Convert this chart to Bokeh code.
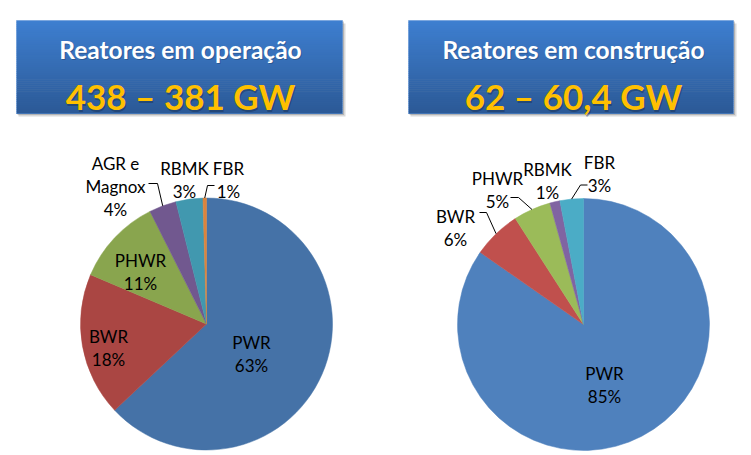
import numpy as np
from bokeh.plotting import figure
from bokeh.models import ColumnDataSource, Range1d
from bokeh.core.properties import value
from bokeh.embed import file_html
from bokeh.resources import INLINE

# ---------------- data ----------------
op_title = "Reatores em operação"
op_total = "438 – 381 GW"
op_types = ["PWR", "BWR", "PHWR", "AGR e\nMagnox", "RBMK", "FBR"]
op_share = [63.0, 18.4, 11.2, 3.5, 3.45, 0.45]
op_pct = ["63%", "18%", "11%", "4%", "3%", "1%"]

con_title = "Reatores em construção"
con_total = "62 – 60,4 GW"
con_types = ["PWR", "BWR", "PHWR", "RBMK", "FBR"]
con_share = [84.7, 6.2, 4.8, 1.3, 3.0]
con_pct = ["85%", "6%", "5%", "1%", "3%"]

# ---------------- style / layout ----------------
W, H = 751, 455
FONT = "Lato"
op_colors = ["#4572A7", "#AA4643", "#89A54E", "#71588F", "#4198AF", "#DB843D"]
con_colors = ["#4F81BD", "#C0504D", "#9BBB59", "#8064A2", "#4BACC6"]


def sy(y):
    return H - y


p = figure(width=W, height=H, x_range=Range1d(0, W), y_range=Range1d(0, H),
           output_backend="svg", toolbar_location=None, min_border=0)
p.axis.visible = False
p.grid.visible = False
p.outline_line_color = None
p.background_fill_color = "white"
p.border_fill_color = "white"


def header(x0, x1, y0, y1, title, total, tx, title_base, num_base):
    # shadow
    p.quad(left=[x0 + 2], right=[x1 + 3], top=[sy(y0 + 3)], bottom=[sy(y1 + 3)],
           fill_color="#808080", fill_alpha=0.3, line_color=None)
    p.quad(left=[x0 + 1], right=[x1 + 1.5], top=[sy(y0 + 1)], bottom=[sy(y1 + 1.5)],
           fill_color="#606060", fill_alpha=0.3, line_color=None)
    n = 46
    top_c = np.array([0x3E, 0x7F, 0xD0])
    bot_c = np.array([0x2C, 0x5A, 0x97])
    edges = np.linspace(y0, y1, n + 1)
    cols = []
    for i in range(n):
        t = i / (n - 1)
        c = (top_c * (1 - t) + bot_c * t).astype(int)
        cols.append("#%02x%02x%02x" % tuple(c))
    p.quad(left=[x0] * n, right=[x1] * n, top=[sy(e) for e in edges[:-1]],
           bottom=[sy(e) - 0.6 for e in edges[1:]], fill_color=cols, line_color=None)
    p.quad(left=[x0], right=[x1], top=[sy(y0)], bottom=[sy(y1)], fill_color=None,
           line_color="#5a8fd6", line_alpha=0.5, line_width=1)
    # title shadow + title
    p.text(x=[tx + 1], y=[sy(title_base) - 1], text=[title], text_font=value(FONT),
           text_font_style="bold", text_font_size="24.5px", text_color="#1a2f50", text_alpha=0.35,
           text_align="center", text_baseline="alphabetic")
    p.text(x=[tx], y=[sy(title_base)], text=[title], text_font=value(FONT),
           text_font_style="bold", text_font_size="24.5px", text_color="white",
           text_align="center", text_baseline="alphabetic")
    p.text(x=[tx + 1], y=[sy(num_base) - 1.5], text=[total], text_font=value(FONT),
           text_font_style="bold", text_font_size="35px", text_color="#142642", text_alpha=0.4,
           text_align="center", text_baseline="alphabetic")
    p.text(x=[tx], y=[sy(num_base)], text=[total], text_font=value(FONT),
           text_font_style="bold", text_font_size="35px", text_color="#FFC000",
           text_align="center", text_baseline="alphabetic")


header(16, 342, 20, 113, op_title, op_total, 180, 48.5, 95.5)
header(408, 733, 20, 113, con_title, con_total, 573, 48.5, 95.5)


def pie(cx, cy, r, shares, colors, types, pcts, label_pos, leaders):
    s = np.array(shares, dtype=float)
    frac = s / s.sum()
    cum = np.concatenate([[0], np.cumsum(frac)])
    start = np.pi / 2 - 2 * np.pi * cum[:-1]
    end = np.pi / 2 - 2 * np.pi * cum[1:]
    src = ColumnDataSource(dict(x=[cx] * len(s), y=[sy(cy)] * len(s), start=start, end=end,
                                color=colors))
    p.wedge(x="x", y="y", radius=r, start_angle="start", end_angle="end", direction="clock",
            fill_color="color", line_color="color", line_width=0.5, source=src)
    mid = (cum[:-1] + cum[1:]) / 2
    # leader lines
    for i, (lx, ly, ex, ey) in leaders.items():
        a = np.pi / 2 - 2 * np.pi * mid[i]
        px = cx + r * np.cos(a)
        py = sy(cy) + r * np.sin(a)
        p.line(x=[lx, ex, px], y=[sy(ly), sy(ey), py], line_color="#000000", line_width=1)
    # labels
    xs, ys, ts = [], [], []
    for i, (lx, ly) in enumerate(label_pos):
        lines = types[i].split("\n") + [pcts[i]]
        for k, t in enumerate(lines):
            xs.append(lx)
            ys.append(sy(ly + 23 * k + 6.2))
            ts.append(t)
    p.text(x=xs, y=ys, text=ts, text_font=value(FONT), text_font_size="17px",
           text_color="#000000", text_align="center", text_baseline="alphabetic")


pie(206, 323.5, 126, op_share, op_colors, op_types, op_pct,
    [(251, 336), (108, 330), (140, 254), (115, 157), (184, 162), (228, 162)],
    {3: (148, 183, 157, 183), 5: (214, 185, 207, 185)})

pie(583, 324, 126, con_share, con_colors, con_types, con_pct,
    [(604, 367), (455, 210), (497, 172), (547, 163), (599, 156)],
    {1: (479, 212, 486, 212), 2: (510, 197, 518, 197), 4: (587, 184.5, 580, 184.5)})

open("out.html", "w").write(file_html(p, INLINE))
